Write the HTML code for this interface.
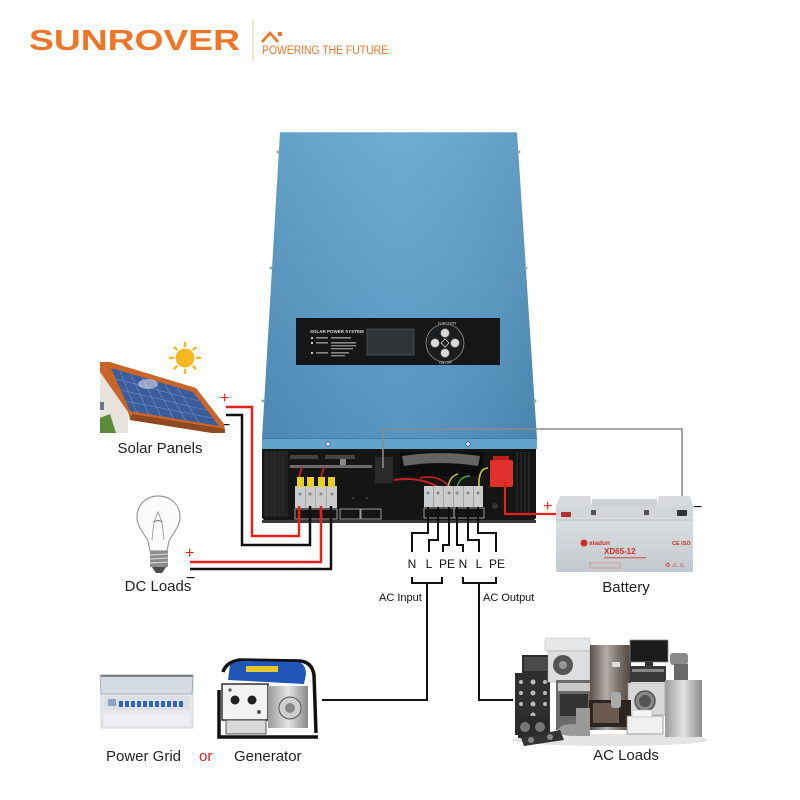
<!DOCTYPE html>
<html><head><meta charset="utf-8"><style>
html,body{margin:0;padding:0;background:#fff;}
svg{display:block;}
text{font-family:"Liberation Sans",Arial,sans-serif;}
</style></head><body>
<svg width="800" height="800" viewBox="0 0 800 800" xmlns="http://www.w3.org/2000/svg">
<defs>
<linearGradient id="blue" x1="0" y1="0" x2="0" y2="1">
<stop offset="0" stop-color="#68a9d0"/><stop offset="0.5" stop-color="#5d9dc7"/><stop offset="1" stop-color="#5090bd"/>
</linearGradient>
<linearGradient id="blueH" x1="0" y1="0" x2="1" y2="0">
<stop offset="0" stop-color="#000" stop-opacity="0.06"/><stop offset="0.5" stop-color="#fff" stop-opacity="0.04"/><stop offset="1" stop-color="#000" stop-opacity="0.08"/>
</linearGradient>
<linearGradient id="fridge" x1="0" y1="0" x2="1" y2="0">
<stop offset="0" stop-color="#5a524c"/><stop offset="0.4" stop-color="#b4aca6"/><stop offset="0.7" stop-color="#7a716b"/><stop offset="1" stop-color="#4e4640"/>
</linearGradient>
<linearGradient id="silver" x1="0" y1="0" x2="1" y2="0">
<stop offset="0" stop-color="#9a9a9a"/><stop offset="0.5" stop-color="#e4e4e4"/><stop offset="1" stop-color="#8a8a8a"/>
</linearGradient>
<linearGradient id="batt" x1="0" y1="0" x2="0" y2="1">
<stop offset="0" stop-color="#dfe3e6"/><stop offset="1" stop-color="#c4c9cd"/>
</linearGradient>
</defs>

<!-- LOGO -->
<text x="29" y="50" font-size="29" font-weight="700" fill="#f07526" textLength="211" lengthAdjust="spacingAndGlyphs">SUNROVER</text>
<line x1="253" y1="20" x2="253" y2="62" stroke="#e6c9a2" stroke-width="1"/>
<path d="M262,42 L270,33 L278,42" fill="none" stroke="#f07526" stroke-width="2.6"/>
<rect x="278" y="32" width="4" height="4" fill="#f07526"/>
<text x="262" y="54" font-size="11.5" fill="#f07526" textLength="126" lengthAdjust="spacingAndGlyphs">POWERING THE FUTURE</text>

<!-- INVERTER BODY -->
<polygon points="280,132 517,132 537,439 262,439" fill="url(#blue)"/>
<polygon points="280,132 517,132 537,439 262,439" fill="url(#blueH)"/>
<line x1="280" y1="132.5" x2="517" y2="132.5" stroke="#8cc0de" stroke-width="1"/>
<circle cx="278" cy="152" r="1.5" fill="#9aa"/><circle cx="519" cy="152" r="1.5" fill="#9aa"/>
<circle cx="271" cy="268" r="1.5" fill="#9aa"/><circle cx="526" cy="268" r="1.5" fill="#9aa"/>
<circle cx="263" cy="401" r="1.5" fill="#9aa"/><circle cx="535" cy="401" r="1.5" fill="#9aa"/>
<!-- ledge -->
<rect x="262" y="438" width="275" height="11" fill="#62a4cc"/>
<line x1="262" y1="438.5" x2="537" y2="438.5" stroke="#3f7ca8" stroke-width="1"/>
<circle cx="328" cy="444" r="2.2" fill="#d8e6ee" stroke="#335" stroke-width="0.6"/>
<circle cx="468" cy="444" r="2.2" fill="#d8e6ee" stroke="#335" stroke-width="0.6"/>

<!-- front panel -->
<rect x="296" y="318" width="204" height="47" fill="#141618"/>
<text x="310" y="333" font-size="4.5" font-weight="700" fill="#ddd">SOLAR POWER SYSTEM</text>
<rect x="311" y="337" width="2" height="2" fill="#ccc"/><rect x="316" y="337" width="12" height="1.6" fill="#888"/><rect x="331" y="337" width="20" height="1.6" fill="#888"/>
<rect x="311" y="342" width="2" height="2" fill="#ccc"/><rect x="316" y="342" width="12" height="1.6" fill="#888"/><rect x="331" y="342" width="25" height="1.6" fill="#888"/>
<rect x="331" y="345" width="25" height="1.4" fill="#888"/><rect x="331" y="348" width="22" height="1.4" fill="#888"/>
<rect x="311" y="352" width="2" height="2" fill="#ccc"/><rect x="316" y="352" width="12" height="1.6" fill="#888"/><rect x="331" y="352" width="18" height="1.6" fill="#888"/><rect x="331" y="355" width="14" height="1.4" fill="#888"/>
<rect x="367" y="329" width="47" height="26" fill="#2e3438" stroke="#555" stroke-width="0.8"/>
<circle cx="445" cy="343" r="19" fill="#1b1d1f" stroke="#bbb" stroke-width="0.6"/>
<circle cx="445" cy="333" r="4.3" fill="#d8d8d8" stroke="#777" stroke-width="0.6"/>
<circle cx="445" cy="353" r="4.3" fill="#d8d8d8" stroke="#777" stroke-width="0.6"/>
<circle cx="435" cy="343" r="4.3" fill="#d8d8d8" stroke="#777" stroke-width="0.6"/>
<circle cx="455" cy="343" r="4.3" fill="#d8d8d8" stroke="#777" stroke-width="0.6"/>
<path d="M445,339 L449,343 L445,347 L441,343 Z" fill="none" stroke="#ccc" stroke-width="0.8"/>
<text x="438" y="324.5" font-size="3.5" fill="#ddd">FUNCTION</text>
<text x="439" y="364" font-size="3.5" fill="#ddd">ON OFF</text>

<!-- BLACK BOTTOM BOX -->
<path d="M262,449 H536 V518 L531,523 H267 L262,518 Z" fill="#151515"/>
<rect x="264" y="451" width="24" height="66" fill="#222"/>
<g stroke="#2e2e2e" stroke-width="1">
<line x1="267" y1="452" x2="267" y2="516"/><line x1="271" y1="452" x2="271" y2="516"/><line x1="275" y1="452" x2="275" y2="516"/><line x1="279" y1="452" x2="279" y2="516"/><line x1="283" y1="452" x2="283" y2="516"/>
<line x1="517" y1="452" x2="517" y2="516"/><line x1="521" y1="452" x2="521" y2="516"/><line x1="525" y1="452" x2="525" y2="516"/><line x1="529" y1="452" x2="529" y2="516"/>
</g>
<rect x="262" y="520" width="274" height="3" fill="#3a3a3a"/>
<!-- top internals left -->
<rect x="290" y="455" width="28" height="4" fill="#444"/><rect x="325" y="455" width="30" height="4" fill="#444"/>
<rect x="290" y="465" width="82" height="3" fill="#6a6a6a"/>
<rect x="340" y="459" width="6" height="6" fill="#888"/>
<path d="M299,477 L302,467" stroke="#c02020" stroke-width="2"/>
<path d="M321,477 L324,467" stroke="#c02020" stroke-width="2"/>
<!-- center internals -->
<rect x="375" y="457" width="18" height="26" fill="#2a2a2a"/>
<rect x="400" y="452" width="83" height="24" fill="#0c0c0c"/>
<path d="M402,456 Q440,450 480,456 L478,466 Q440,460 404,466 Z" fill="#8a8a8a" opacity="0.7"/>
<path d="M394,480 Q420,476 440,488" stroke="#c82020" stroke-width="2" fill="none"/>
<path d="M420,478 Q440,474 450,488" stroke="#c82020" stroke-width="1.6" fill="none"/>
<path d="M448,487 Q450,476 458,474" stroke="#d8d020" stroke-width="1.4" fill="none"/>
<path d="M457,487 Q460,476 470,476" stroke="#40a040" stroke-width="1.4" fill="none"/>
<path d="M479,487 Q478,468 488,468" stroke="#c8d030" stroke-width="1.6" fill="none"/>
<!-- red connector -->
<rect x="490" y="460" width="23" height="27" rx="2" fill="#e0302c"/>
<rect x="493" y="456" width="16" height="4" fill="#b82020"/>
<circle cx="495" cy="506" r="3" fill="#333"/>

<!-- DC terminal block -->
<rect x="295" y="486" width="42" height="22" fill="#c9cbcc"/>
<g fill="#a8aaab"><rect x="305" y="486" width="1" height="22"/><rect x="315" y="486" width="1" height="22"/><rect x="326" y="486" width="1" height="22"/></g>
<g fill="#e9d21f"><rect x="297" y="477" width="7" height="10"/><rect x="307" y="477" width="7" height="10"/><rect x="318" y="477" width="7" height="10"/><rect x="328" y="477" width="7" height="10"/></g>
<g fill="#888"><circle cx="300" cy="494" r="1.5"/><circle cx="310" cy="494" r="1.5"/><circle cx="321" cy="494" r="1.5"/><circle cx="332" cy="494" r="1.5"/></g>
<rect x="295" y="509" width="42" height="10" fill="none" stroke="#bbb" stroke-width="0.8"/>
<rect x="340" y="509" width="20" height="10" fill="none" stroke="#bbb" stroke-width="0.8"/>
<rect x="361" y="509" width="20" height="10" fill="none" stroke="#bbb" stroke-width="0.8"/>
<circle cx="353" cy="498" r="1" fill="#444"/><circle cx="367" cy="498" r="1" fill="#444"/>

<!-- AC terminal block -->
<rect x="424" y="486" width="59" height="21" fill="#c9cbcc"/>
<g fill="#a0a2a3"><rect x="433" y="486" width="1" height="21"/><rect x="443" y="486" width="1" height="21"/><rect x="453" y="486" width="1" height="21"/><rect x="463" y="486" width="1" height="21"/><rect x="473" y="486" width="1" height="21"/></g>
<g fill="#888"><circle cx="428" cy="493" r="1.5"/><circle cx="438" cy="493" r="1.5"/><circle cx="449" cy="493" r="1.5"/><circle cx="457" cy="493" r="1.5"/><circle cx="468" cy="493" r="1.5"/><circle cx="478" cy="493" r="1.5"/></g>
<rect x="424" y="508" width="30" height="10" fill="none" stroke="#bbb" stroke-width="0.8"/>
<rect x="454" y="508" width="30" height="10" fill="none" stroke="#bbb" stroke-width="0.8"/>

<!-- DC WIRES -->
<g fill="none" stroke-width="2.5">
<path d="M226,407 H252 V536 H299 V506" stroke="#e8201c"/>
<path d="M226,415 H242 V545 H310 V506" stroke="#111"/>
<path d="M190,562 H321 V506" stroke="#e8201c"/>
<path d="M190,569 H331 V506" stroke="#111"/>
</g>
<text x="220" y="403" font-size="16" fill="#e8201c">+</text>
<text x="221" y="430" font-size="16" fill="#111">−</text>
<text x="185" y="558" font-size="16" fill="#e8201c">+</text>
<text x="186" y="583" font-size="16" fill="#111">−</text>

<!-- AC WIRES -->
<g fill="none" stroke="#111" stroke-width="2">
<path d="M428,507 V533 H412 V552"/>
<path d="M438,507 V540 H429 V552"/>
<path d="M449,507 V545 H443 V552"/>
<path d="M457,507 V545 H463 V552"/>
<path d="M468,507 V540 H479 V552"/>
<path d="M478,507 V533 H496 V552"/>
<path d="M412,577 V583 H442 V577"/>
<path d="M463,577 V583 H496 V577"/>
<path d="M427,583 V700 H322"/>
<path d="M479,583 V700 H513"/>
</g>
<g font-size="12" fill="#111" text-anchor="middle">
<text x="412" y="568">N</text><text x="429" y="568">L</text><text x="447" y="568">PE</text>
<text x="463" y="568">N</text><text x="479" y="568">L</text><text x="497" y="568">PE</text>
</g>
<text x="379" y="601" font-size="11" fill="#111">AC Input</text>
<text x="483" y="601" font-size="11" fill="#111">AC Output</text>

<!-- BATTERY WIRES -->
<path d="M505,482 V514 H565" fill="none" stroke="#e8201c" stroke-width="2.2"/>
<path d="M383,468 V429 H682 V513" fill="none" stroke="#8a8a8a" stroke-width="1.6"/>
<text x="543" y="511" font-size="16" fill="#e8201c">+</text>
<text x="693" y="512" font-size="16" fill="#111">−</text>

<!-- BATTERY -->
<rect x="556" y="506" width="137" height="66" rx="2" fill="url(#batt)"/>
<path d="M556,506 L560,496 H590 L592,506 Z" fill="#d6dadd"/>
<path d="M657,506 L659,496 H690 L693,506 Z" fill="#d6dadd"/>
<rect x="592" y="499" width="65" height="9" fill="#cdd1d4"/>
<rect x="556" y="506" width="137" height="12" fill="#d2d6d9"/>
<rect x="591" y="510" width="5" height="5" fill="#555"/><rect x="644" y="510" width="5" height="5" fill="#555"/>
<rect x="561" y="512" width="10" height="5" rx="1" fill="#b03030"/>
<rect x="677" y="510" width="10" height="6" rx="1" fill="#333"/>
<line x1="556" y1="520" x2="693" y2="520" stroke="#b8bdc1" stroke-width="1"/>
<circle cx="584" cy="543" r="3.5" fill="#c8302c"/>
<text x="589" y="545" font-size="6.5" font-weight="700" fill="#c8302c">xiadun</text>
<text x="672" y="545" font-size="5.5" font-weight="700" fill="#c8302c">CE ISO</text>
<text x="604" y="554" font-size="8" font-weight="700" fill="#c8302c">XD65-12</text>
<rect x="604" y="557" width="42" height="1.4" fill="#d07070"/>
<rect x="590" y="563" width="30" height="5" fill="none" stroke="#d08080" stroke-width="0.6"/>
<text x="665" y="567" font-size="6" fill="#c8302c">♻ ⚠ ⚠</text>
<text x="626" y="592" font-size="15" fill="#222" text-anchor="middle">Battery</text>

<!-- SOLAR PANELS -->
<g>
<circle cx="185" cy="358" r="9.5" fill="#f6b81f"/>
<g stroke="#f6b81f" stroke-width="2.4" stroke-linecap="round">
<line x1="185" y1="343" x2="185" y2="346"/><line x1="185" y1="370" x2="185" y2="373"/>
<line x1="170" y1="358" x2="173" y2="358"/><line x1="197" y1="358" x2="200" y2="358"/>
<line x1="174.5" y1="347.5" x2="176.5" y2="349.5"/><line x1="193.5" y1="366.5" x2="195.5" y2="368.5"/>
<line x1="195.5" y1="347.5" x2="193.5" y2="349.5"/><line x1="174.5" y1="368.5" x2="176.5" y2="366.5"/>
</g>
<polygon points="100,370 118,392 128,412 128,433 100,433" fill="#e6e3dc"/>
<rect x="100" y="402" width="4" height="8" fill="#6a7a88"/>
<polygon points="100,418 110,414 116,433 100,433" fill="#5b8a3a"/>
<polygon points="100,362 110,362 196,388 224,424 225,433 212,433 130,420 128,412 100,372" fill="#c9652a"/>
<polygon points="130,420 212,433 225,433 225,429 132,414" fill="#8f4a22"/>
<polygon points="111,368 193,392 219,426 130,411" fill="#3b5d9c"/>
<g stroke="#7f9bd0" stroke-width="0.6" opacity="0.8">
<line x1="120" y1="371" x2="137" y2="413"/><line x1="131" y1="374" x2="149" y2="415"/><line x1="142" y1="377" x2="161" y2="417"/><line x1="153" y1="380" x2="174" y2="419"/><line x1="165" y1="384" x2="186" y2="421"/><line x1="177" y1="387" x2="199" y2="423"/>
<line x1="116" y1="379" x2="199" y2="401"/><line x1="121" y1="390" x2="206" y2="410"/><line x1="125" y1="401" x2="212" y2="418"/>
</g>
<ellipse cx="148" cy="384" rx="10" ry="5" fill="#fff" opacity="0.45"/>
</g>
<text x="160" y="453" font-size="15" fill="#222" text-anchor="middle">Solar Panels</text>

<!-- LIGHT BULB -->
<g>
<path d="M158,496 C146,496 137,505 137,517 C137,527 144,533 148,541 L150,551 H167 L169,541 C173,533 180,527 180,517 C180,505 171,496 158,496 Z" fill="#fbfbfb" stroke="#9a9a9a" stroke-width="1.2"/>
<path d="M152,540 L154,522 L158,512 L162,522 L164,540" fill="none" stroke="#9a9a9a" stroke-width="0.9"/>
<path d="M154,522 Q158,519 162,522" fill="none" stroke="#777" stroke-width="1"/>
<rect x="150" y="551" width="18" height="16" fill="#8c8c8c"/>
<g stroke="#d0d0d0" stroke-width="1.3"><line x1="150" y1="555" x2="168" y2="554"/><line x1="150" y1="559" x2="168" y2="558"/><line x1="150" y1="563" x2="168" y2="562"/></g>
<path d="M152,567 H166 L162,573 H156 Z" fill="#4a4a4a"/>
</g>
<text x="158" y="591" font-size="15" fill="#222" text-anchor="middle">DC Loads</text>

<!-- POWER GRID -->
<g>
<rect x="101" y="677" width="92" height="51" fill="#e6e8ec" stroke="#c8ccd2" stroke-width="0.8"/>
<path d="M100,675 H193 L192,694 H101 Z" fill="#d5dbe2" stroke="#9aa2ab" stroke-width="0.8"/>
<line x1="101" y1="676" x2="193" y2="676" stroke="#555" stroke-width="1.2"/>
<rect x="104" y="696" width="86" height="14" fill="#dcdfe4"/>
<rect x="108" y="699" width="8" height="7" fill="#8da2c0"/>
<g fill="#2e64b8">
<rect x="119" y="701" width="4" height="6"/><rect x="125" y="701" width="4" height="6"/><rect x="131" y="701" width="4" height="6"/><rect x="137" y="701" width="4" height="6"/><rect x="143" y="701" width="4" height="6"/><rect x="149" y="701" width="4" height="6"/><rect x="155" y="701" width="4" height="6"/><rect x="161" y="701" width="4" height="6"/><rect x="167" y="701" width="4" height="6"/><rect x="173" y="701" width="4" height="6"/><rect x="179" y="701" width="4" height="6"/>
</g>
<rect x="104" y="713" width="86" height="12" fill="#eceef1"/>
</g>
<text x="106" y="761" font-size="15" fill="#222">Power Grid</text>
<text x="199" y="761" font-size="15" fill="#d42020">or</text>

<!-- GENERATOR -->
<g>
<path d="M223,672 Q226,662 240,660 L300,661 Q312,662 314,675 L316,733" fill="none" stroke="#111" stroke-width="3.5"/>
<path d="M228,680 L230,665 Q236,660 250,661 L298,662 Q306,664 306,674 L304,684 Z" fill="#1f56b8"/>
<rect x="246" y="666" width="32" height="6" fill="#e8c830"/>
<rect x="222" y="684" width="46" height="36" fill="#f2f2f2" stroke="#222" stroke-width="1.4"/>
<circle cx="235" cy="700" r="4.5" fill="#222"/><circle cx="252" cy="700" r="4.5" fill="#222"/>
<circle cx="230" cy="690" r="1.6" fill="#555"/><circle cx="259" cy="712" r="2" fill="#555"/>
<rect x="268" y="686" width="40" height="42" fill="url(#silver)"/>
<circle cx="290" cy="708" r="11" fill="#cfcfcf" stroke="#555" stroke-width="1"/>
<circle cx="290" cy="708" r="5" fill="#888"/>
<path d="M219,690 L219,737 H318" fill="none" stroke="#111" stroke-width="3.5"/>
<rect x="226" y="720" width="40" height="14" fill="#d8d8d8" stroke="#333" stroke-width="0.8"/>
</g>
<text x="234" y="761" font-size="15" fill="#222">Generator</text>

<!-- AC LOADS -->
<g>
<ellipse cx="610" cy="740" rx="98" ry="6" fill="#e4e4e4"/>
<rect x="522" y="655" width="27" height="19" fill="#2c2c2c"/>
<rect x="524" y="657" width="23" height="14" fill="#4a4a4a"/>
<rect x="515" y="673" width="35" height="62" fill="#2f2f2f"/>
<g fill="#bbb"><circle cx="521" cy="682" r="2"/><circle cx="533" cy="682" r="2.5"/><circle cx="545" cy="682" r="2"/><circle cx="521" cy="693" r="2"/><circle cx="533" cy="693" r="2.5"/><circle cx="545" cy="693" r="2"/><circle cx="521" cy="704" r="2"/><circle cx="533" cy="704" r="2.5"/><circle cx="545" cy="704" r="2"/><circle cx="533" cy="715" r="2.5"/></g>
<rect x="545" y="638" width="45" height="13" rx="2" fill="#e4e6e8" stroke="#bbb" stroke-width="0.6"/>
<rect x="548" y="651" width="42" height="31" fill="#dcdee0" stroke="#aaa" stroke-width="0.6"/>
<circle cx="563" cy="665" r="10" fill="#555"/><circle cx="563" cy="665" r="4" fill="#999"/>
<rect x="556" y="680" width="36" height="50" fill="#6a6a6a"/>
<rect x="558" y="683" width="32" height="8" fill="#c8c8c8"/>
<rect x="560" y="694" width="28" height="22" fill="#333"/>
<rect x="590" y="645" width="41" height="85" fill="url(#fridge)"/>
<rect x="612" y="662" width="8" height="5" fill="#ddd"/>
<rect x="630" y="640" width="38" height="22" fill="#1c1c1c" stroke="#888" stroke-width="0.8"/>
<rect x="645" y="662" width="8" height="4" fill="#333"/>
<rect x="630" y="666" width="36" height="16" fill="#3a3a3a"/>
<rect x="632" y="669" width="32" height="3" fill="#888"/>
<rect x="628" y="683" width="37" height="32" fill="#d8d8d8" stroke="#999" stroke-width="0.6"/>
<circle cx="645" cy="701" r="10" fill="#888" stroke="#555" stroke-width="1.5"/><circle cx="645" cy="701" r="6" fill="#555"/>
<rect x="670" y="653" width="18" height="12" rx="3" fill="#8a8a8a"/>
<rect x="674" y="664" width="14" height="16" fill="#6a6a6a"/>
<rect x="665" y="680" width="37" height="57" fill="url(#silver)"/>
<rect x="589" y="700" width="42" height="27" fill="#2c2420"/>
<rect x="593" y="703" width="26" height="20" fill="#6a5a50"/>
<rect x="611" y="692" width="10" height="16" rx="3" fill="#aaa"/>
<rect x="627" y="716" width="36" height="18" fill="#f0f0f0" stroke="#888" stroke-width="0.8"/>
<rect x="632" y="710" width="20" height="7" fill="#f4f4f4" stroke="#aaa" stroke-width="0.5"/>
<rect x="576" y="708" width="14" height="28" fill="#9a9a9a"/>
<ellipse cx="572" cy="730" rx="14" ry="6" fill="#9a9a9a"/>
<rect x="518" y="716" width="30" height="22" fill="#2a2a2a"/>
<circle cx="525" cy="727" r="5" fill="#777"/><circle cx="540" cy="727" r="5" fill="#777"/>
<path d="M521,738 L560,730 L564,740 L524,746 Z" fill="#333"/>
<circle cx="531" cy="740" r="3" fill="#888"/><circle cx="550" cy="737" r="3" fill="#888"/>
</g>
<text x="626" y="760" font-size="15" fill="#222" text-anchor="middle">AC Loads</text>
</svg>
</body></html>
